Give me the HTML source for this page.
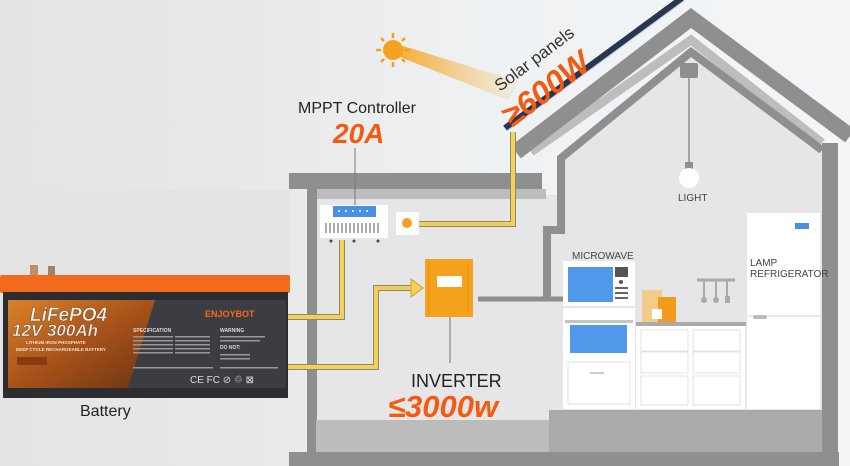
<!DOCTYPE html>
<html><head><meta charset="utf-8"><style>
html,body{margin:0;padding:0;width:850px;height:466px;overflow:hidden;background:#eef0f2}
svg{display:block}
text{font-family:"Liberation Sans",sans-serif}
</style></head><body>
<svg width="850" height="466" viewBox="0 0 850 466" xmlns="http://www.w3.org/2000/svg">
<defs>
<linearGradient id="bg" x1="0" y1="0" x2="1" y2="0">
<stop offset="0" stop-color="#e4e4e4"/><stop offset="0.3" stop-color="#e9e9e9"/><stop offset="0.6" stop-color="#eff2f4"/><stop offset="1" stop-color="#f3f5f7"/></linearGradient>
<linearGradient id="beam" x1="0" y1="0" x2="1" y2="0">
<stop offset="0" stop-color="#f6a623" stop-opacity="0.9"/><stop offset="1" stop-color="#f6c060" stop-opacity="0.1"/></linearGradient>
<linearGradient id="lab" x1="0" y1="0" x2="1" y2="1">
<stop offset="0" stop-color="#d9822a"/><stop offset="0.5" stop-color="#a8521a"/><stop offset="1" stop-color="#6a3410"/></linearGradient>
</defs>
<rect width="850" height="466" fill="url(#bg)"/>
<rect x="0" y="190" width="290" height="90" fill="#e4e4e4"/>

<!-- sun -->
<polygon points="400,45 520,82 508,100 400,57" fill="url(#beam)"/>
<g stroke="#f6a020" stroke-width="2.5">
<line x1="393" y1="33" x2="393" y2="38"/><line x1="393" y1="62" x2="393" y2="67"/>
<line x1="376" y1="50" x2="381" y2="50"/><line x1="405" y1="50" x2="410" y2="50"/>
<line x1="381" y1="38" x2="384" y2="41"/><line x1="402" y1="59" x2="405" y2="62"/>
<line x1="381" y1="62" x2="384" y2="59"/><line x1="402" y1="41" x2="405" y2="38"/>
</g>
<circle cx="393" cy="50" r="10" fill="#f6a020"/>

<!-- house structure -->
<polygon points="565,160 691,50 822,150 822,410 565,410" fill="#e6e6e8"/>
<rect x="316" y="195" width="250" height="225" fill="#e6e6e8"/>
<rect x="289" y="173" width="253" height="16" fill="#8f8f8f"/>
<rect x="316" y="189" width="230" height="10" fill="#bdbdbd"/>
<rect x="307" y="189" width="10" height="270" fill="#8f8f8f"/>
<rect x="316" y="420" width="233" height="32" fill="#bcbcbc"/>
<rect x="549" y="410" width="275" height="42" fill="#aaaaaa"/>
<rect x="289" y="452" width="550" height="14" fill="#8f8f8f"/>
<polyline points="531,152 691,40 822,143" fill="none" stroke="#bdbdbd" stroke-width="9"/>
<polyline points="547,299 547,230 561,230 561,158 691,52 822,150" fill="none" stroke="#8f8f8f" stroke-width="8" stroke-linejoin="miter"/>
<rect x="822" y="143" width="16" height="323" fill="#8f8f8f"/>
<polyline points="516,152 691,18 850,136" fill="none" stroke="#8f8f8f" stroke-width="16"/>
<!-- solar panel -->
<line x1="505" y1="128" x2="682" y2="-2" stroke="#2a3550" stroke-width="6"/>
<line x1="507" y1="131" x2="684" y2="1" stroke="#c8d0e0" stroke-width="1"/>

<!-- solar text -->
<text transform="translate(500,92) rotate(-37)" font-size="17" fill="#333">Solar panels</text>
<text transform="translate(512,128) rotate(-37)" font-size="32" font-weight="bold" font-style="italic" fill="#f45a10">≥600W</text>

<!-- light -->
<rect x="680" y="63" width="18" height="15" fill="#8f8f8f" rx="2"/>
<line x1="689" y1="78" x2="689" y2="165" stroke="#8f8f8f" stroke-width="1.5"/>
<rect x="685" y="162" width="8" height="8" fill="#8f8f8f"/>
<circle cx="689" cy="178" r="10" fill="#fff"/>
<text x="678" y="201" font-size="10" fill="#444">LIGHT</text>

<!-- fridge -->
<rect x="747" y="213" width="73" height="196" fill="#fff"/>
<line x1="747" y1="316" x2="820" y2="316" stroke="#e2e2e2" stroke-width="1.5"/>
<rect x="795" y="223" width="14" height="6" fill="#4a90e2"/>
<rect x="753" y="315" width="14" height="4" rx="2" fill="#bbb"/>
<text x="750" y="266" font-size="10" fill="#444">LAMP</text>
<text x="750" y="277" font-size="10" fill="#444">REFRIGERATOR</text>

<!-- microwave -->
<text x="572" y="259" font-size="10" fill="#444">MICROWAVE</text>
<rect x="563" y="261" width="72" height="45" fill="#fff"/>
<rect x="568" y="267" width="45" height="35" fill="#4f98ea"/>
<rect x="615" y="267" width="13" height="10" fill="#555"/>
<circle cx="621" cy="282" r="2" fill="#555"/>
<g fill="#666"><rect x="615" y="287" width="13" height="2"/><rect x="615" y="292" width="13" height="2"/><rect x="615" y="297" width="13" height="2"/></g>
<rect x="563" y="308" width="72" height="101" fill="#fff"/>
<rect x="565" y="320" width="68" height="3" fill="#c4c4c4"/>
<rect x="570" y="325" width="57" height="28" fill="#4f98ea"/>
<rect x="568" y="362" width="62" height="42" fill="#fff" stroke="#e0e0e0"/>
<rect x="590" y="372" width="14" height="2" fill="#ccc"/>

<!-- counter -->
<rect x="642" y="290" width="20" height="32" fill="#f2cc8a"/>
<rect x="658" y="297" width="18" height="25" fill="#f39c1c"/>
<rect x="652" y="309" width="10" height="10" fill="#fff"/>
<line x1="697" y1="280" x2="735" y2="280" stroke="#aaa" stroke-width="3"/>
<g stroke="#aaa" stroke-width="2"><line x1="704" y1="280" x2="704" y2="298"/><line x1="716" y1="280" x2="716" y2="298"/><line x1="727" y1="280" x2="727" y2="298"/></g>
<circle cx="704" cy="300" r="3" fill="#aaa"/><circle cx="716" cy="300" r="3" fill="#aaa"/><rect x="725" y="296" width="5" height="7" fill="#aaa"/>
<rect x="636" y="322" width="110" height="4" fill="#aaa"/>
<rect x="636" y="326" width="109" height="83" fill="#fff"/>
<g fill="none" stroke="#e2e2e2"><rect x="641" y="330" width="47" height="21"/><rect x="693" y="330" width="47" height="21"/><rect x="641" y="352" width="47" height="21"/><rect x="693" y="352" width="47" height="21"/><rect x="641" y="376" width="47" height="29"/><rect x="693" y="376" width="47" height="29"/></g>

<!-- wires -->
<g fill="none" stroke="#8a8a70" stroke-width="6" stroke-linejoin="miter">
<polyline points="419,224 513,224 513,132"/>
<polyline points="288,317 342,317 342,240"/>
<polyline points="288,367 376,367 376,288 413,288"/>
</g>
<g fill="none" stroke="#f6cf55" stroke-width="4" stroke-linejoin="miter">
<polyline points="419,224 513,224 513,132"/>
<polyline points="288,317 342,317 342,240"/>
<polyline points="288,367 376,367 376,288 413,288"/>
</g>
<polygon points="411,279 423,288 411,297" fill="#f6cf55" stroke="#c8a030" stroke-width="1"/>
<line x1="478" y1="299" x2="563" y2="299" stroke="#8f8f8f" stroke-width="5"/>

<!-- controller -->
<line x1="355" y1="148" x2="355" y2="205" stroke="#777" stroke-width="1"/>
<rect x="320" y="205" width="68" height="33" fill="#fff"/>
<rect x="333" y="206" width="43" height="11" fill="#4a90e2"/>
<g fill="#fff"><circle cx="339" cy="211" r="1"/><circle cx="346" cy="211" r="1"/><circle cx="353" cy="211" r="1"/><circle cx="360" cy="211" r="1"/><circle cx="367" cy="211" r="1"/></g>
<g stroke="#555" stroke-width="1"><line x1="326" y1="223" x2="326" y2="233"/><line x1="330" y1="223" x2="330" y2="233"/><line x1="334" y1="223" x2="334" y2="233"/><line x1="338" y1="223" x2="338" y2="233"/><line x1="342" y1="223" x2="342" y2="233"/><line x1="346" y1="223" x2="346" y2="233"/><line x1="350" y1="223" x2="350" y2="233"/><line x1="354" y1="223" x2="354" y2="233"/><line x1="358" y1="223" x2="358" y2="233"/><line x1="362" y1="223" x2="362" y2="233"/><line x1="366" y1="223" x2="366" y2="233"/><line x1="370" y1="223" x2="370" y2="233"/><line x1="374" y1="223" x2="374" y2="233"/><line x1="378" y1="223" x2="378" y2="233"/></g>
<g fill="#444"><circle cx="331" cy="241" r="1.5"/><circle cx="354" cy="241" r="1.5"/><circle cx="378" cy="241" r="1.5"/></g>
<rect x="396" y="212" width="23" height="23" fill="#fff"/>
<circle cx="407" cy="223" r="5" fill="#f6a020"/>
<text x="298" y="113" font-size="16" fill="#222">MPPT Controller</text>
<text x="333" y="143" font-size="28" font-weight="bold" font-style="italic" fill="#f45a10">20A</text>

<!-- inverter -->
<rect x="425" y="259" width="48" height="58" fill="#f4a11c"/>
<line x1="429" y1="263" x2="429" y2="313" stroke="#e08a10"/><line x1="468" y1="263" x2="468" y2="313" stroke="#e08a10"/>
<rect x="437" y="276" width="25" height="11" fill="#fff"/>
<line x1="450" y1="317" x2="450" y2="363" stroke="#777" stroke-width="1"/>
<text x="411" y="387" font-size="18" fill="#222">INVERTER</text>
<text x="388" y="417" font-size="31" font-weight="bold" font-style="italic" fill="#f45a10">≤3000w</text>

<!-- battery -->
<rect x="30" y="265" width="8" height="10" fill="#b89070"/><rect x="48" y="266" width="7" height="9" fill="#a08070"/>
<rect x="0" y="275" width="290" height="18" fill="#f26a1b" rx="2"/>
<rect x="3" y="292" width="285" height="106" fill="#2b2d31"/>
<polygon points="130,300 286,300 286,388 100,388" fill="#3b3d42"/>
<polygon points="8,300 155,300 128,388 8,388" fill="url(#lab)"/>
<text x="30" y="321" font-size="19" font-weight="bold" font-style="italic" fill="#f3f3f3" stroke="#7a4a20" stroke-width="0.5">LiFePO4</text>
<text x="12" y="336" font-size="17" font-weight="bold" font-style="italic" fill="#f3f3f3" stroke="#7a4a20" stroke-width="0.5">12V 300Ah</text>
<text x="26" y="344" font-size="4.5" font-weight="bold" fill="#f0e0d0">LITHIUM IRON PHOSPHATE</text>
<text x="16" y="351" font-size="4.5" font-weight="bold" fill="#f0e0d0">DEEP CYCLE RECHARGEABLE BATTERY</text>
<rect x="17" y="357" width="30" height="8" fill="#8a3a10"/>
<text x="205" y="317" font-size="9" font-weight="bold" fill="#f26a1b">ENJOYBOT</text>
<text x="133" y="332" font-size="5" font-weight="bold" fill="#ddd">SPECIFICATION</text>
<text x="220" y="332" font-size="5" font-weight="bold" fill="#ddd">WARNING</text>
<text x="220" y="349" font-size="5" font-weight="bold" fill="#ddd">DO NOT:</text>
<g fill="#999"><rect x="133" y="336" width="40" height="1.5"/><rect x="175" y="336" width="35" height="1.5"/><rect x="133" y="340" width="40" height="1.5"/><rect x="175" y="340" width="35" height="1.5"/><rect x="133" y="344" width="40" height="1.5"/><rect x="175" y="344" width="35" height="1.5"/><rect x="133" y="348" width="40" height="1.5"/><rect x="175" y="348" width="35" height="1.5"/><rect x="133" y="352" width="40" height="1.5"/><rect x="175" y="352" width="35" height="1.5"/><rect x="133" y="367" width="80" height="1.5"/><rect x="220" y="336" width="45" height="1.5"/><rect x="220" y="340" width="40" height="1.5"/><rect x="220" y="354" width="30" height="1.5"/><rect x="220" y="358" width="30" height="1.5"/><rect x="220" y="367" width="58" height="1.5"/></g>
<text x="190" y="383" font-size="10" fill="#ddd">CE FC ⊘ ♲ ⊠</text>
<text x="80" y="416" font-size="16" fill="#222">Battery</text>
</svg>
</body></html>
